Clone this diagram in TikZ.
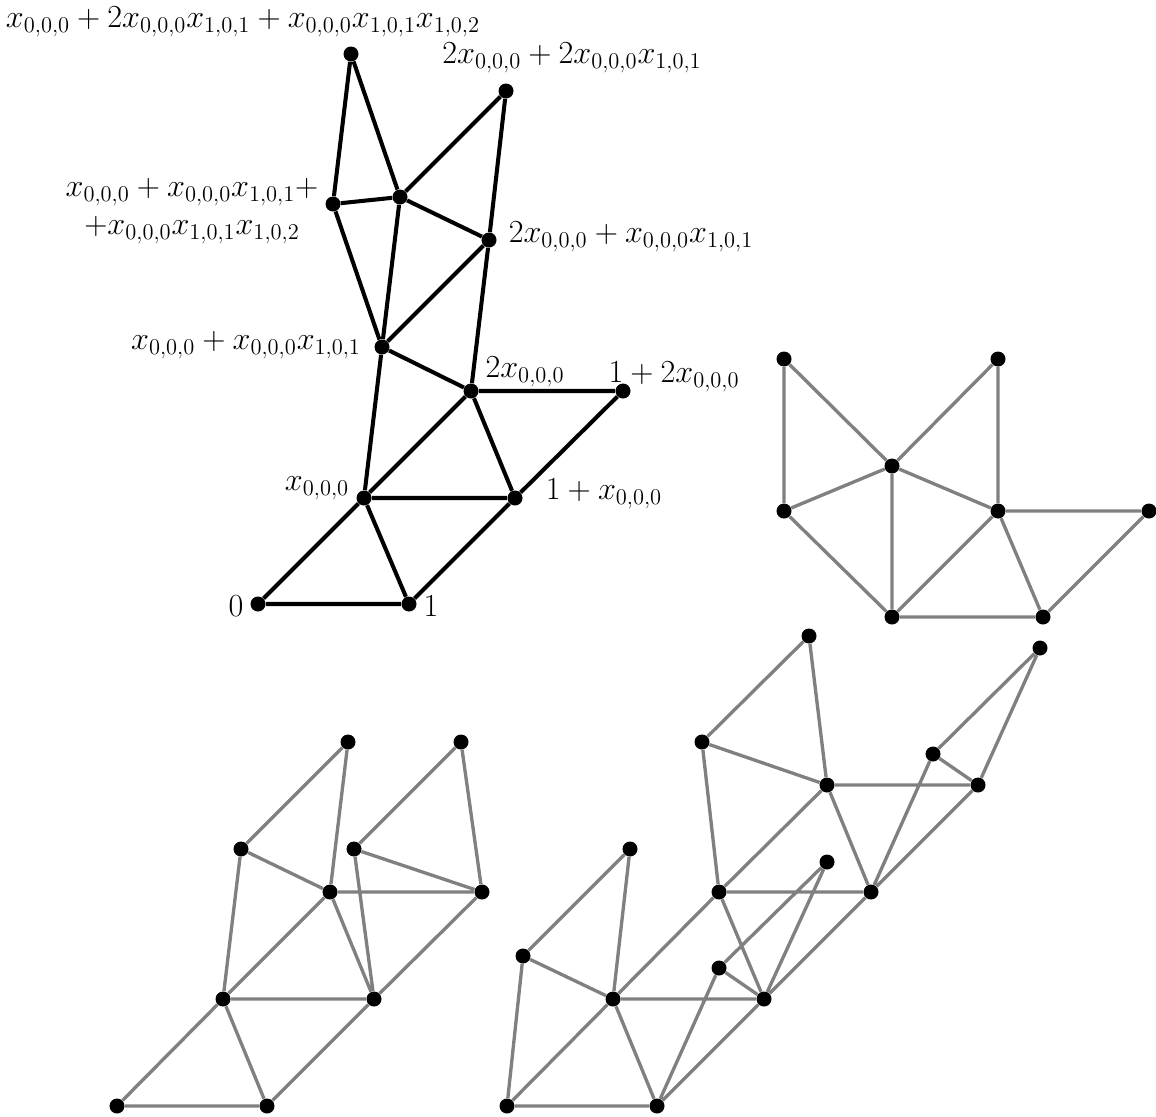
\RequirePackage{fix-cm}
\documentclass[tikz,border=0pt]{standalone}
\usepackage{amsmath}
\usepackage{xcolor}
\usepackage{tikz}
\definecolor{edgegray}{RGB}{128,128,128}

\begin{document}
\begin{tikzpicture}[
  x=0.02cm,y=-0.02cm,
  font=\fontsize{18.3}{21.5}\selectfont,
  dot/.style={circle,fill=black,inner sep=0pt,minimum size=0.3cm},
  blk/.style={line width=2.3pt,black},
  gry/.style={line width=1.9pt,edgegray},
  lbl/.style={inner sep=0pt,align=center},
]
\useasboundingbox (0,0) rectangle (1156,1116);
% top complex with labels
\node[dot] (t0) at (258,604) {};
\node[dot] (t1) at (409,604) {};
\node[dot] (tx) at (364,498) {};
\node[dot] (t1x) at (515,498) {};
\node[dot] (t2x) at (471,391) {};
\node[dot] (t12x) at (623,391) {};
\node[dot] (ta) at (382,347) {};
\node[dot] (tb) at (489,240) {};
\node[dot] (tc) at (333,204) {};
\node[dot] (td) at (400,197) {};
\node[dot] (te) at (506,91) {};
\node[dot] (tf) at (351,54) {};
\draw[blk] (t0)--(t1) (t0)--(tx) (t1)--(tx) (t1)--(t1x) (tx)--(t1x) (tx)--(t2x)
  (t1x)--(t2x) (t1x)--(t12x) (t2x)--(t12x) (tx)--(ta) (ta)--(t2x) (ta)--(tb)
  (t2x)--(tb) (ta)--(tc) (ta)--(td) (td)--(tb) (tb)--(te) (td)--(te)
  (tc)--(td) (tc)--(tf) (tf)--(td);
\node[lbl] (lab-t0) at (236,606) {$0$};
\node[lbl] (lab-t1) at (431,606) {$1$};
\node[lbl] (lab-tx) at (317,488) {$x_{0,0,0}$};
\node[lbl] (lab-t1x) at (604,494) {$1+x_{0,0,0}$};
\node[lbl] (lab-t2x) at (525,372) {$2x_{0,0,0}$};
\node[lbl] (lab-t12x) at (674,377) {$1+2x_{0,0,0}$};
\node[lbl] (lab-ta) at (246,345) {$x_{0,0,0}+x_{0,0,0}x_{1,0,1}$};
\node[lbl] (lab-tb) at (631,237) {$2x_{0,0,0}+x_{0,0,0}x_{1,0,1}$};
\node[lbl] (lab-tc) at (192,211) {$x_{0,0,0}+x_{0,0,0}x_{1,0,1}+$\\$+x_{0,0,0}x_{1,0,1}x_{1,0,2}$};
\node[lbl] (lab-te) at (572,58) {$2x_{0,0,0}+2x_{0,0,0}x_{1,0,1}$};
\node[lbl] (lab-tf) at (243,22) {$x_{0,0,0}+2x_{0,0,0}x_{1,0,1}+x_{0,0,0}x_{1,0,1}x_{1,0,2}$};
% right gray complex
\node[dot] (r1) at (784,359) {};
\node[dot] (r2) at (998,359) {};
\node[dot] (r3) at (892,466) {};
\node[dot] (r4) at (784,511) {};
\node[dot] (r5) at (998,511) {};
\node[dot] (r6) at (1149,511) {};
\node[dot] (r7) at (892,617) {};
\node[dot] (r8) at (1043,617) {};
\draw[gry] (r1)--(r4) (r1)--(r3) (r2)--(r3) (r2)--(r5) (r4)--(r3) (r4)--(r7)
  (r3)--(r7) (r3)--(r5) (r5)--(r7) (r5)--(r8) (r5)--(r6) (r6)--(r8) (r7)--(r8);
% bottom left gray complex
\node[dot] (l0) at (117,1106) {};
\node[dot] (l1) at (267,1106) {};
\node[dot] (lx) at (223,999) {};
\node[dot] (l1x) at (374,999) {};
\node[dot] (la) at (330,892) {};
\node[dot] (lb) at (482,892) {};
\node[dot] (lc) at (241,849) {};
\node[dot] (ld) at (354,849) {};
\node[dot] (le) at (348,742) {};
\node[dot] (lf) at (461,742) {};
\draw[gry] (l0)--(l1) (l0)--(lx) (lx)--(l1) (l1)--(l1x) (lx)--(l1x) (lx)--(la)
  (l1x)--(lb) (la)--(l1x) (lx)--(lc) (lc)--(la) (lc)--(le) (le)--(la)
  (la)--(lb) (ld)--(lb) (ld)--(l1x) (ld)--(lf) (lf)--(lb);
% bottom right gray complex
\node[dot] (p0) at (507,1106) {};
\node[dot] (p1) at (657,1106) {};
\node[dot] (px) at (613,999) {};
\node[dot] (p1x) at (764,999) {};
\node[dot] (pa) at (523,956) {};
\node[dot] (pb) at (630,849) {};
\node[dot] (pc) at (719,968) {};
\node[dot] (pd) at (827,862) {};
\node[dot] (pe) at (719,892) {};
\node[dot] (pf) at (871,892) {};
\node[dot] (pg) at (702,742) {};
\node[dot] (ph) at (809,636) {};
\node[dot] (pi) at (827,785) {};
\node[dot] (pj) at (978,785) {};
\node[dot] (pk) at (933,754) {};
\node[dot] (pl) at (1040,648) {};
\draw[gry] (p0)--(p1) (p0)--(pa) (p0)--(px) (px)--(p1) (p1)--(pc) (p1)--(p1x)
  (px)--(p1x) (pa)--(px) (pa)--(pb) (pb)--(px) (px)--(pe) (pe)--(p1x)
  (pc)--(p1x) (pc)--(pd) (pd)--(p1x) (p1x)--(pf) (pe)--(pf) (pe)--(pg)
  (pe)--(pi) (pg)--(ph) (pg)--(pi) (ph)--(pi) (pi)--(pf) (pi)--(pj)
  (pf)--(pj) (pf)--(pk) (pk)--(pj) (pk)--(pl) (pl)--(pj);
\end{tikzpicture}
\end{document}
